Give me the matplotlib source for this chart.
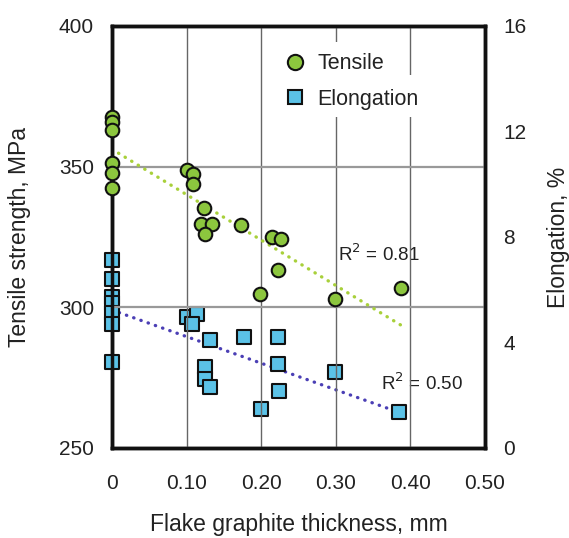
import matplotlib
matplotlib.use("Agg")
import matplotlib.pyplot as plt
from matplotlib.lines import Line2D
from matplotlib.patches import Rectangle
from matplotlib.transforms import blended_transform_factory

plt.rcParams["font.family"] = ["Liberation Sans", "DejaVu Sans"]

# Tensile strength (MPa) vs flake graphite thickness (mm)
tensile_x = [0, 0, 0, 0, 0, 0, 0.100, 0.109, 0.108, 0.123, 0.120, 0.134, 0.125,
             0.173, 0.215, 0.226, 0.223, 0.198, 0.299, 0.387]
tensile_y = [367.7, 365.9, 363.0, 351.3, 347.8, 342.4, 348.8, 347.4, 343.9, 335.2,
             329.5, 329.5, 326.0, 329.3, 325.1, 324.2, 313.3, 304.6, 302.9, 307.0]

# Elongation (%) vs flake graphite thickness (mm)
elong_x = [0, 0, 0, 0, 0, 0, 0, 0.101, 0.114, 0.107, 0.131, 0.125, 0.125, 0.131,
           0.177, 0.222, 0.222, 0.224, 0.200, 0.299, 0.385]
elong_y = [7.13, 6.41, 5.73, 5.50, 5.12, 4.70, 3.26, 4.96, 5.08, 4.69, 4.09, 3.08,
           2.60, 2.30, 4.20, 4.22, 3.18, 2.17, 1.47, 2.87, 1.38]

# Linear trend lines: endpoints along thickness and fitted values
tensile_fit_x = [0.0, 0.389]
tensile_fit_y = [356.2, 293.4]
elong_fit_x = [0.0, 0.388]
elong_fit_y = [5.23, 1.32]

tensile_r2 = "0.81"
elong_r2 = "0.50"

x_ticks = [0, 0.10, 0.20, 0.30, 0.40, 0.50]
x_tick_labels = ["0", "0.10", "0.20", "0.30", "0.40", "0.50"]
left_ticks = [250, 300, 350, 400]
right_ticks = [0, 4, 8, 12, 16]

green = "#8cc63e"
blue = "#5bc2e7"
green_line = "#a8d03a"
blue_line = "#4b3fb5"
text_color = "#222222"
fs = 15
label_fs = 16.5

fig = plt.figure(figsize=(5.69, 5.38), dpi=100)
ax = fig.add_axes([0.1968, 0.1673, 0.6555, 0.7844])
ax2 = ax.twinx()

ax.set_xlim(0, 0.5)
ax.set_ylim(250, 400)
ax2.set_ylim(0, 16)

# grid
for xv in x_ticks[1:-1]:
    ax.axvline(xv, color="#666666", lw=1.0, zorder=0)
for yv in left_ticks[1:-1]:
    ax.axhline(yv, color="#999999", lw=1.6, zorder=0)

# white patches behind the legend entries (x in data units, y in axes fraction)
bt = blended_transform_factory(ax.transData, ax.transAxes)
ax.add_patch(Rectangle((0.23, 0.784), 0.15, 0.178, transform=bt,
                       facecolor="white", edgecolor="none", zorder=0.5))
ax.add_patch(Rectangle((0.28, 0.784), 0.15, 0.10, transform=bt,
                       facecolor="white", edgecolor="none", zorder=0.5))

# trend lines
ax.plot(tensile_fit_x, tensile_fit_y, color=green_line, lw=2.4,
        linestyle=(0, (0.1, 2.2)), dash_capstyle="round", zorder=2)
ax2.plot(elong_fit_x, elong_fit_y, color=blue_line, lw=2.4,
         linestyle=(0, (0.1, 2.2)), dash_capstyle="round", zorder=2)

# data points
ax.scatter(tensile_x, tensile_y, s=95, marker="o", facecolor=green,
           edgecolor="#111111", linewidth=1.5, zorder=4, clip_on=False)
ax2.scatter(elong_x, elong_y, s=95, marker="s", facecolor=blue,
            edgecolor="#111111", linewidth=1.5, zorder=4, clip_on=False)

# R^2 annotations
ax2.text(0.3035, 7.33, r"R$^2$ = " + tensile_r2, fontsize=13.5, color=text_color,
         va="center", ha="left")
ax2.text(0.3605, 2.44, r"R$^2$ = " + elong_r2, fontsize=13.5, color=text_color,
         va="center", ha="left")

# axes styling
for a in (ax, ax2):
    for sp in a.spines.values():
        sp.set_linewidth(2.5)
        sp.set_color("#111111")

ax.set_xticks(x_ticks)
ax.set_xticklabels(x_tick_labels)
ax.set_yticks(left_ticks)
ax2.set_yticks(right_ticks)
ax.tick_params(axis="x", length=0, pad=19, labelsize=fs, labelcolor=text_color)
ax.tick_params(axis="y", length=0, pad=13, labelsize=fs, labelcolor=text_color)
ax2.tick_params(axis="y", length=0, pad=13, labelsize=fs, labelcolor=text_color)

ax.set_xlabel("Flake graphite thickness, mm", fontsize=label_fs, color=text_color,
              labelpad=14)
ax.set_ylabel("Tensile strength, MPa", fontsize=label_fs, color=text_color, labelpad=20)
ax2.set_ylabel("Elongation, %", fontsize=label_fs, color=text_color, labelpad=15)

ax.set_zorder(ax2.get_zorder() + 1)
ax.patch.set_visible(False)

handles = [
    Line2D([], [], marker="o", linestyle="none", markersize=11,
           markerfacecolor=green, markeredgecolor="#111111", markeredgewidth=1.5,
           label="Tensile"),
    Line2D([], [], marker="s", linestyle="none", markersize=10.5,
           markerfacecolor=blue, markeredgecolor="#111111", markeredgewidth=1.5,
           label="Elongation"),
]
leg = ax.legend(handles=handles, loc="center", bbox_to_anchor=(0.641, 0.868),
                frameon=False, fontsize=15.5, handletextpad=0.55, labelspacing=0.68,
                borderpad=0, handlelength=1.0)
for t in leg.get_texts():
    t.set_color(text_color)

fig.savefig("out.png", dpi=100)
